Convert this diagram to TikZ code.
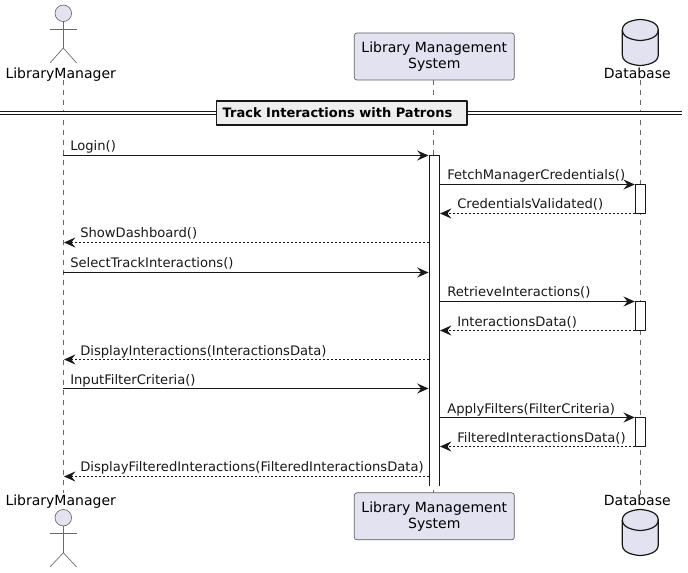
\documentclass[tikz,border=0pt]{standalone}
\usepackage{fontspec}
\setmainfont{DejaVu Sans}
\usetikzlibrary{arrows.meta}
\definecolor{Pfill}{RGB}{226,226,240}
\definecolor{Pline}{RGB}{24,24,24}
\definecolor{Dfill}{RGB}{238,238,238}
\tikzset{
  lifeline/.style={draw=Pline!65,line width=0.5pt,dash pattern=on 3.75pt off 3.75pt},
  stick/.style={draw=Pline!65,line width=0.5pt},
  partbox/.style={draw=Pline!70,line width=0.5pt,fill=Pfill,rounded corners=2pt,minimum width=120pt,minimum height=35.25pt,inner sep=0pt,align=center,font=\fontsize{10.5}{12}\selectfont},
  partlabel/.style={inner sep=0pt,anchor=base,font=\fontsize{10.5}{12}\selectfont},
  head/.style={circle,draw=Pline!65,line width=0.5pt,fill=Pfill,minimum size=12.4pt,inner sep=0pt},
  cylinder/.style={draw=Pline,line width=0.9pt,fill=Pfill},
  actbar/.style={rectangle,draw=Pline,line width=0.75pt,fill=white,minimum width=7.5pt,inner sep=0pt},
  msg/.style={draw=Pline,line width=0.75pt,-{Stealth[length=8.5pt,width=7.5pt,inset=3pt]}},
  reply/.style={msg,dash pattern=on 1.5pt off 1.5pt},
  msgtext/.style={inner sep=0pt,anchor=base west,text=Pline,font=\fontsize{9.85}{12}\selectfont},
  dividerbox/.style={draw=Pline,line width=1.3pt,fill=Dfill,minimum width=188pt,minimum height=18pt,inner sep=0pt,font=\bfseries\fontsize{9.75}{12}\selectfont},
}
\begin{document}
\begin{tikzpicture}[x=0.75pt,y=-0.75pt,line join=round]
\path[use as bounding box] (0,0) rectangle (688,573);
% lifelines
\coordinate (mgrtop) at (63.3,80);
\coordinate (mgrbot) at (63.3,493);
\coordinate (systop) at (433.3,80);
\coordinate (sysbot) at (433.3,493);
\coordinate (dbtop) at (640.3,80);
\coordinate (dbbot) at (640.3,497);
\draw[lifeline] (mgrtop) -- (mgrbot);
\draw[lifeline] (systop) -- (sysbot);
\draw[lifeline] (dbtop) -- (dbbot);
% actor, top
\node[head] (mgrhead) at (63.3,13.3) {};
\coordinate (mgrhip) at (63.3,48);
\coordinate (mgrarml) at (50,29);
\coordinate (mgrarmr) at (76.6,29);
\coordinate (mgrfootl) at (50,63);
\coordinate (mgrfootr) at (76.6,63);
\draw[stick] (mgrhead) -- (mgrhip);
\draw[stick] (mgrarml) -- (mgrarmr);
\draw[stick] (mgrfootl) -- (mgrhip) -- (mgrfootr);
\node[partlabel] (mgrlabel) at (60.7,78.5) {LibraryManager};
% actor, bottom
\node[head] (mgrheadb) at (63.3,517.7) {};
\coordinate (mgrhipb) at (63.3,552.7);
\coordinate (mgrarmlb) at (50,533);
\coordinate (mgrarmrb) at (76.6,533);
\coordinate (mgrfootlb) at (50,567);
\coordinate (mgrfootrb) at (76.6,567);
\draw[stick] (mgrheadb) -- (mgrhipb);
\draw[stick] (mgrarmlb) -- (mgrarmrb);
\draw[stick] (mgrfootlb) -- (mgrhipb) -- (mgrfootrb);
\node[partlabel] (mgrlabelb) at (60.7,505.5) {LibraryManager};
% system boxes
\node[partbox] (sysboxt) at (434.3,56.5) {Library Management\\System};
\node[partbox] (sysboxb) at (434.3,516.3) {Library Management\\System};
% database, top and bottom
\draw[cylinder] (622.3,30) .. controls (622.3,20) and (640.3,19.5) .. (640.3,19.5) .. controls (640.3,19.5) and (658.3,20) .. (658.3,30) -- (658.3,55) .. controls (658.3,65) and (640.3,65.5) .. (640.3,65.5) .. controls (640.3,65.5) and (622.3,65) .. (622.3,55) -- cycle;
\draw[cylinder,fill=none] (622.3,30) .. controls (622.3,40) and (640.3,40.5) .. (640.3,40.5) .. controls (640.3,40.5) and (658.3,40) .. (658.3,30);
\node[partlabel] (dblabel) at (637.3,78.5) {Database};
\draw[cylinder] (622.3,520) .. controls (622.3,510) and (640.3,509.5) .. (640.3,509.5) .. controls (640.3,509.5) and (658.3,510) .. (658.3,520) -- (658.3,545) .. controls (658.3,555) and (640.3,555.5) .. (640.3,555.5) .. controls (640.3,555.5) and (622.3,555) .. (622.3,545) -- cycle;
\draw[cylinder,fill=none] (622.3,520) .. controls (622.3,530) and (640.3,530.5) .. (640.3,530.5) .. controls (640.3,530.5) and (658.3,530) .. (658.3,520);
\node[partlabel] (dblabelb) at (637.3,505.5) {Database};
% divider
\coordinate (divl) at (0,113);
\coordinate (divr) at (682.3,113);
\draw[draw=Pline,double=white,double distance=1.1pt,line width=0.75pt] (divl) -- (divr);
\node[dividerbox] (divbox) at (341.7,112.8) {Track Interactions with Patrons\hspace*{6.3pt}};
% activation bars
\node[rectangle,fill=white,minimum width=7.5pt,minimum height=247.5pt,inner sep=0pt] (sysbar) at (434.3,320.5) {};
\draw[draw=Pline,line width=0.75pt] (sysbar.south west) -- (sysbar.north west) -- (sysbar.north east) -- (sysbar.south east);
\node[actbar,minimum height=21.75pt] (dbbarA) at (640.5,199) {};
\node[actbar,minimum height=21.75pt] (dbbarB) at (640.5,316) {};
\node[actbar,minimum height=21.75pt] (dbbarC) at (640.5,432) {};
% messages
\coordinate (loginS) at (63.3,155.5);
\coordinate (loginE) at (428.5,155.5);
\draw[msg] (loginS) -- (loginE);
\node[msgtext] (loginT) at (70,150.5) {Login()};
\coordinate (fetchS) at (439.3,184.5);
\coordinate (fetchE) at (634.8,184.5);
\draw[msg] (fetchS) -- (fetchE);
\node[msgtext] (fetchT) at (447,180) {FetchManagerCredentials()};
\coordinate (credS) at (635.3,213.5);
\coordinate (credE) at (440,213.5);
\draw[reply] (credS) -- (credE);
\node[msgtext] (credT) at (457,209) {CredentialsValidated()};
\coordinate (dashS) at (428.5,242.5);
\coordinate (dashE) at (64,242.5);
\draw[reply] (dashS) -- (dashE);
\node[msgtext] (dashT) at (80,238) {ShowDashboard()};
\coordinate (selS) at (63.3,272.5);
\coordinate (selE) at (428.5,272.5);
\draw[msg] (selS) -- (selE);
\node[msgtext] (selT) at (70,267.5) {SelectTrackInteractions()};
\coordinate (retS) at (439.3,301.5);
\coordinate (retE) at (634.8,301.5);
\draw[msg] (retS) -- (retE);
\node[msgtext] (retT) at (447,296.5) {RetrieveInteractions()};
\coordinate (idataS) at (635.3,330.5);
\coordinate (idataE) at (440,330.5);
\draw[reply] (idataS) -- (idataE);
\node[msgtext] (idataT) at (457,326) {InteractionsData()};
\coordinate (showS) at (428.5,359.5);
\coordinate (showE) at (64,359.5);
\draw[reply] (showS) -- (showE);
\node[msgtext] (showT) at (80,355) {DisplayInteractions(InteractionsData)};
\coordinate (inS) at (63.3,388.5);
\coordinate (inE) at (428.5,388.5);
\draw[msg] (inS) -- (inE);
\node[msgtext] (inT) at (70,384) {InputFilterCriteria()};
\coordinate (applyS) at (439.3,417.5);
\coordinate (applyE) at (634.8,417.5);
\draw[msg] (applyS) -- (applyE);
\node[msgtext] (applyT) at (447,413) {ApplyFilters(FilterCriteria)};
\coordinate (fdataS) at (635.3,446.5);
\coordinate (fdataE) at (440,446.5);
\draw[reply] (fdataS) -- (fdataE);
\node[msgtext] (fdataT) at (457,442) {FilteredInteractionsData()};
\coordinate (fshowS) at (428.5,476.5);
\coordinate (fshowE) at (64,476.5);
\draw[reply] (fshowS) -- (fshowE);
\node[msgtext] (fshowT) at (80,471.5) {DisplayFilteredInteractions(FilteredInteractionsData)};
\end{tikzpicture}
\end{document}
